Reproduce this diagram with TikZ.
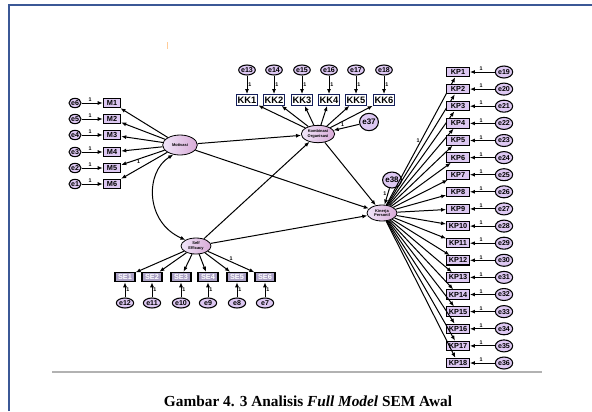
\documentclass[tikz,border=0pt]{standalone}
\usepackage{fontspec}
\setmainfont{Liberation Serif}
\setsansfont{Liberation Sans}
\usetikzlibrary{shapes.geometric,arrows.meta}

\definecolor{lav}{RGB}{221,200,242}
\definecolor{selav}{RGB}{172,162,198}
\definecolor{frameblue}{RGB}{59,88,150}
\definecolor{kknavy}{RGB}{20,30,90}

\tikzstyle{obs}=[rectangle,draw,line width=0.8pt,fill=lav,inner sep=0.4pt,minimum height=7pt,font=\sffamily\bfseries\fontsize{5.5}{6}\selectfont]
\tikzstyle{err}=[ellipse,draw,line width=0.8pt,fill=lav,inner sep=0pt,font=\sffamily\bfseries\fontsize{5.3}{5.3}\selectfont]
\tikzstyle{lat}=[ellipse,draw,line width=0.6pt,left color=lav!45,right color=lav!85!purple,inner sep=0pt,align=center,font=\sffamily\bfseries\fontsize{3}{3.4}\selectfont]
\tikzstyle{arr}=[-{Latex[length=3.8pt,width=3pt]},line width=0.75pt]
\tikzstyle{dbl}=[{Latex[length=3.8pt,width=3pt]}-{Latex[length=3.8pt,width=3pt]},line width=0.75pt]
\tikzstyle{one}=[font=\sffamily\bfseries\fontsize{4}{4}\selectfont,inner sep=0.6pt]

\newcommand\Mitem[3]{
  \node[err,minimum width=9pt,minimum height=7pt] (e#2) at (75,#3) {e#2};
  \node[obs,minimum width=13pt] (m#1) at (112,#3) {M#1};
  \draw[arr] (e#2) -- node[one,pos=0.4,above] {1} (m#1);
  \draw[arr] (mot) -- (m#1);
}
\newcommand\KKitem[3]{
  \node[err,minimum width=11pt,minimum height=7.5pt] (e#2) at (#3,70) {e#2};
  \node[obs,fill=white,draw=kknavy,minimum width=16pt,minimum height=8pt,font=\sffamily\bfseries\fontsize{7}{7}\selectfont] (kk#1) at (#3,100) {KK#1};
  \draw[arr] (e#2) -- node[one,right] {1} (kk#1);
  \draw[arr] (komb) -- (kk#1);
}
\newcommand\SEitem[3]{
  \node[err,minimum width=13pt,minimum height=7.5pt] (e#2) at (#3,303) {e#2};
  \node[obs,fill=selav,text=white,minimum width=15pt] (se#1) at (#3,277) {SE#1};
  \draw[arr] (e#2) -- node[one,right] {1} (se#1);
  \draw[arr] (self) -- (se#1);
}
\newcommand\KPitem[3]{
  \node[err,minimum width=13pt,minimum height=9pt] (e#2) at (504,#3) {e#2};
  \node[obs,minimum width=17pt] (kp#1) at (458,#3) {KP#1};
  \draw[arr] (e#2) -- node[one,pos=0.55,above] {1} (kp#1);
  \draw[arr] (kin) -- (kp#1);
}

\begin{document}
\begin{tikzpicture}[x=0.75pt,y=-0.75pt]
  \useasboundingbox (0,0) rectangle (592,411);
  % frame and caption
  \draw[frameblue,line width=1.5pt] (8.5,411) -- (8.5,5) -- (592,5);
  \draw[orange!40,line width=0.6pt] (167,42) -- (167,49);
  \draw[gray!60,line width=0.8pt] (52,372) -- (542,372);
  \node[anchor=base,font=\fontsize{11.5}{12}\selectfont\bfseries] (cap) at (308,406) {Gambar 4. 3 Analisis \textit{Full Model} SEM Awal};

  % latent variables
  \node[lat,minimum width=26pt,minimum height=15pt] (mot) at (180,145) {Motivasi};
  \node[lat,minimum width=25pt,minimum height=13pt] (komb) at (318,134) {Kombinasi\\Organisasi};
  \node[lat,minimum width=22.5pt,minimum height=12pt] (self) at (196,246) {Self\\Efficacy};
  \node[lat,minimum width=22.5pt,minimum height=12pt] (kin) at (382,213) {Kinerja\\Personil};
  \node[err,minimum width=13pt,minimum height=13pt,font=\sffamily\bfseries\fontsize{6}{6}\selectfont] (e37) at (369,122) {e37};
  \node[err,minimum width=11pt,minimum height=12pt,font=\sffamily\bfseries\fontsize{6}{6}\selectfont] (e38) at (392,180) {e38};

  \Mitem{1}{6}{103}
  \Mitem{2}{5}{119}
  \Mitem{3}{4}{135}
  \Mitem{4}{3}{152}
  \Mitem{5}{2}{168}
  \Mitem{6}{1}{184}
  \path (mot) -- node[one,pos=0.6,below] {1} (m5);

  \KKitem{1}{13}{247}
  \KKitem{2}{14}{274}
  \KKitem{3}{15}{302}
  \KKitem{4}{16}{329}
  \KKitem{5}{17}{356}
  \KKitem{6}{18}{384}

  \SEitem{1}{12}{125}
  \SEitem{2}{11}{152}
  \SEitem{3}{10}{181}
  \SEitem{4}{9}{208}
  \SEitem{5}{8}{237}
  \SEitem{6}{7}{265}
  \path (self) -- node[one,pos=0.5,above] {1} (se6);

  \KPitem{1}{19}{72}
  \KPitem{2}{20}{89.1}
  \KPitem{3}{21}{106.2}
  \KPitem{4}{22}{123.4}
  \KPitem{5}{23}{140.5}
  \KPitem{6}{24}{157.6}
  \KPitem{7}{25}{174.7}
  \KPitem{8}{26}{191.8}
  \KPitem{9}{27}{208.9}
  \KPitem{10}{28}{226.1}
  \KPitem{11}{29}{243.2}
  \KPitem{12}{30}{260.3}
  \KPitem{13}{31}{277.4}
  \KPitem{14}{32}{294.5}
  \KPitem{15}{33}{311.6}
  \KPitem{16}{34}{328.8}
  \KPitem{17}{35}{345.9}
  \KPitem{18}{36}{363}
  \path (kin) -- node[one,pos=0.5,left] {1} (kp1);

  % structural paths
  \draw[arr] (mot) -- (komb);
  \draw[arr] (mot) -- (kin);
  \draw[arr] (self) -- (komb);
  \draw[arr] (self) -- (kin);
  \draw[arr] (komb) -- (kin);
  \draw[arr] (e37) -- node[one,pos=0.65,above] {1} (komb);
  \draw[arr] (e38) -- node[one,pos=0.35,left] {1} (kin);
  \draw[dbl] (mot.235) .. controls (145,172) and (145,222) .. (self.150);
\end{tikzpicture}
\end{document}
